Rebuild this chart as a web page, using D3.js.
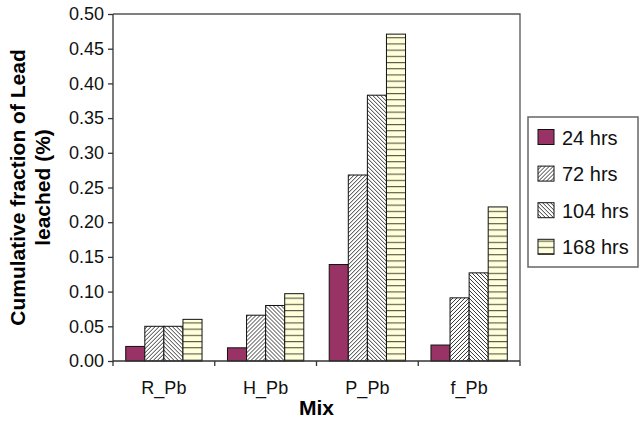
<!DOCTYPE html>
<html>
<head>
<meta charset="utf-8">
<script src="https://cdn.jsdelivr.net/npm/d3@7"></script>
<style>
  body { margin: 0; background: #fff; }
  svg { display: block; font-family: "Liberation Sans", Arial, sans-serif; }
</style>
</head>
<body>
<div id="container"></div>
<script>
const mixes = ["R_Pb", "H_Pb", "P_Pb", "f_Pb"];
const series = ["24 hrs", "72 hrs", "104 hrs", "168 hrs"];
const hrs24 = [0.021, 0.019, 0.139, 0.023];
const hrs72 = [0.050, 0.066, 0.268, 0.091];
const hrs104 = [0.050, 0.080, 0.383, 0.127];
const hrs168 = [0.060, 0.097, 0.471, 0.222];
const yTicks = [0, 0.05, 0.1, 0.15, 0.2, 0.25, 0.3, 0.35, 0.4, 0.45, 0.5];

const chart = () => {
  const width = 642, height = 423;
  const margin = {left: 113, right: 122, top: 14, bottom: 62};
  const values = [hrs24, hrs72, hrs104, hrs168];

  const data = mixes.map((m, i) => ({
    mix: m,
    bars: series.map((s, j) => ({series: s, idx: j, value: values[j][i]}))
  }));

  const x = d3.scaleBand()
    .domain(mixes)
    .range([margin.left, width - margin.right]);

  const xInner = d3.scaleBand()
    .domain(series)
    .range([0, x.bandwidth() * 0.75]);

  const y = d3.scaleLinear()
    .domain([0, 0.5])
    .range([height - margin.bottom, margin.top]);

  const svg = d3.create("svg")
    .attr("width", width)
    .attr("height", height)
    .attr("viewBox", [0, 0, width, height]);

  const defs = svg.append("defs");
  defs.append("pattern")
    .attr("id", "fwd").attr("patternUnits", "userSpaceOnUse")
    .attr("width", 4).attr("height", 4)
    .call(p => p.append("rect").attr("width", 4).attr("height", 4).attr("fill", "#fff"))
    .append("path")
    .attr("d", "M-1,1 l2,-2 M0,4 l4,-4 M3,5 l2,-2")
    .attr("stroke", "#222").attr("stroke-width", 0.9);
  defs.append("pattern")
    .attr("id", "back").attr("patternUnits", "userSpaceOnUse")
    .attr("width", 4).attr("height", 4)
    .call(p => p.append("rect").attr("width", 4).attr("height", 4).attr("fill", "#fff"))
    .append("path")
    .attr("d", "M-1,3 l2,2 M0,0 l4,4 M3,-1 l2,2")
    .attr("stroke", "#222").attr("stroke-width", 0.9);
  defs.append("pattern")
    .attr("id", "horiz").attr("patternUnits", "userSpaceOnUse")
    .attr("width", 6).attr("height", 6.2)
    .call(p => p.append("rect").attr("width", 6).attr("height", 6.2).attr("fill", "#ffffdc"))
    .append("line")
    .attr("x1", 0).attr("x2", 6).attr("y1", 0.5).attr("y2", 0.5)
    .attr("stroke", "#555544").attr("stroke-width", 1.2);

  const fills = ["#993366", "url(#fwd)", "url(#back)", "url(#horiz)"];

  // plot frame (top and right)
  svg.append("path")
    .attr("d", `M${margin.left},${margin.top}H${width - margin.right}V${height - margin.bottom}`)
    .attr("fill", "none").attr("stroke", "#555").attr("stroke-width", 1.3);

  // bars
  svg.append("g")
    .selectAll("g")
    .data(data)
    .join("g")
    .attr("transform", d => `translate(${x(d.mix) + x.bandwidth() * 0.125},0)`)
    .selectAll("rect")
    .data(d => d.bars)
    .join("rect")
    .attr("x", d => xInner(d.series))
    .attr("y", d => y(d.value))
    .attr("width", xInner.bandwidth())
    .attr("height", d => y(0) - y(d.value))
    .attr("fill", d => fills[d.idx])
    .attr("stroke", "#111")
    .attr("stroke-width", 1);

  // y axis
  const yAxis = svg.append("g")
    .attr("transform", `translate(${margin.left},0)`)
    .call(d3.axisLeft(y).tickValues(yTicks).tickFormat(d3.format(".2f")).tickSize(5).tickPadding(4));
  yAxis.selectAll("text").attr("font-size", 18).attr("fill", "#111").attr("font-family", null);
  yAxis.selectAll("line, path").attr("stroke", "#333").attr("stroke-width", 1.3);
  yAxis.select(".domain").attr("d", `M0,${margin.top}V${height - margin.bottom}`);

  // x axis
  const xAxis = svg.append("g")
    .attr("transform", `translate(0,${height - margin.bottom})`)
    .call(d3.axisBottom(x).tickSize(0).tickPadding(20));
  xAxis.select(".domain").attr("d", `M${margin.left},0H${width - margin.right}`)
    .attr("stroke", "#333").attr("stroke-width", 1.3);
  xAxis.selectAll("text").attr("font-size", 18).attr("fill", "#111").attr("font-family", null);
  xAxis.selectAll(".sep")
    .data(mixes.concat(["end"]))
    .join("line")
    .attr("class", "sep")
    .attr("x1", (d, i) => i < mixes.length ? x(d) : x.range()[1])
    .attr("x2", (d, i) => i < mixes.length ? x(d) : x.range()[1])
    .attr("y1", 0).attr("y2", 5)
    .attr("stroke", "#333").attr("stroke-width", 1.3);

  // axis titles
  svg.append("text")
    .attr("x", (margin.left + width - margin.right) / 2)
    .attr("y", 415)
    .attr("text-anchor", "middle")
    .attr("font-size", 21).attr("font-weight", "bold")
    .text("Mix");

  const yc = (margin.top + height - margin.bottom) / 2;
  svg.append("text")
    .attr("transform", `translate(25,${yc}) rotate(-90)`)
    .attr("text-anchor", "middle")
    .attr("font-size", 21).attr("font-weight", "bold")
    .call(t => t.append("tspan").attr("x", 0).attr("y", 0).text("Cumulative fraction of Lead"))
    .call(t => t.append("tspan").attr("x", 0).attr("y", 25).text("leached (%)"));

  // legend
  const legend = svg.append("g");
  legend.append("rect")
    .attr("x", 528).attr("y", 117).attr("width", 110).attr("height", 150)
    .attr("fill", "#fff").attr("stroke", "#666").attr("stroke-width", 1.5);
  const item = legend.selectAll("g.item")
    .data(series)
    .join("g")
    .attr("class", "item")
    .attr("transform", (d, i) => `translate(538,${137 + i * 36.6})`);
  item.append("rect")
    .attr("x", 0).attr("y", -7.5).attr("width", 16).attr("height", 15)
    .attr("fill", (d, i) => fills[i]).attr("stroke", "#111").attr("stroke-width", 1);
  item.append("text")
    .attr("x", 24).attr("y", 7.5)
    .attr("font-size", 20).attr("fill", "#111")
    .text(d => d);

  return svg.node();
};

const container = document.getElementById("container");
container.innerHTML = '';
container.appendChild(chart());
</script>
</body>
</html>
